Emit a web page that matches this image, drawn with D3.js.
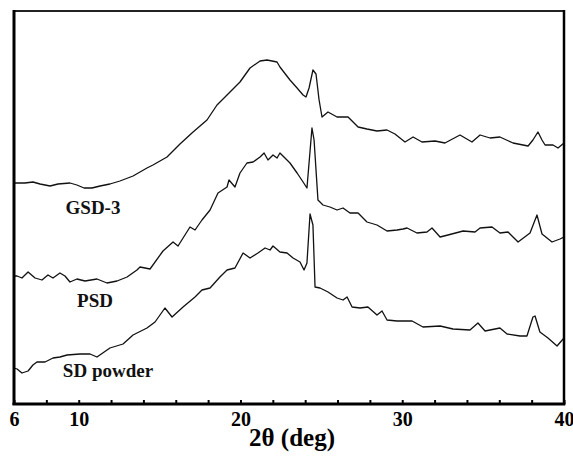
<!DOCTYPE html>
<html>
<head>
<meta charset="utf-8">
<script src="https://cdn.jsdelivr.net/npm/d3@7"></script>
<style>
  html, body { margin: 0; padding: 0; background: #fff; }
  svg { display: block; }
</style>
</head>
<body>
<svg id="chart" width="573" height="459"></svg>
<script>
// ---- Data (2θ in degrees, intensity in arbitrary units incl. vertical offsets) ----
const gsdTheta = [6.00,6.68,7.17,7.61,8.23,8.72,9.46,9.89,10.33,10.82,11.32,11.93,12.55,13.36,14.22,14.59,15.46,16.26,17.07,17.50,17.93,18.55,19.17,19.97,20.59,21.21,21.64,22.26,22.44,23.06,23.50,23.87,24.05,24.24,24.48,24.67,24.86,25.04,25.41,25.97,26.65,27.27,27.82,28.44,29.06,29.55,30.17,30.67,31.22,32.03,32.64,33.57,34.31,34.81,35.43,36.04,36.85,37.47,37.78,38.08,38.39,38.64,38.83,39.32,39.63,40.00];
const gsdValues = [221,221,222,220,218,220,221,219,216,216,218,220,223,228,236,239,247,260,272,278,284,299,309,322,336,343,344,342,337,324,316,309,307,316,334,330,304,287,292,287,287,277,275,273,274,270,262,267,262,263,261,269,262,269,266,267,261,259,258,264,272,264,259,259,256,261];

const psdTheta = [6.00,6.19,6.49,6.87,7.30,7.73,8.10,8.41,8.84,9.15,9.46,9.89,10.39,11.13,11.75,12.37,12.99,13.60,13.79,14.41,15.21,15.83,16.14,16.88,17.19,17.62,18.12,18.61,19.17,19.29,19.66,19.97,20.40,20.78,21.21,21.46,21.70,22.01,22.26,22.44,22.75,23.06,23.50,23.87,24.11,24.42,24.55,24.79,25.10,25.53,25.97,26.34,26.77,27.27,27.82,28.44,29.06,29.68,30.05,30.30,30.91,31.53,31.84,32.34,32.83,33.76,34.50,34.81,35.55,36.04,36.54,37.16,37.90,38.33,38.64,39.26,39.75,40.00];
const psdValues = [128,128,126,132,126,124,129,126,131,128,122,125,123,125,121,123,127,134,137,135,153,162,158,177,174,184,194,211,217,224,217,231,241,242,247,251,244,249,246,251,246,241,231,222,216,276,264,204,199,197,194,196,191,191,182,179,173,174,175,176,171,172,176,167,169,173,172,176,177,171,172,162,171,189,170,162,165,167];

const sdTheta = [6.00,6.19,6.49,6.87,7.17,7.42,7.92,8.41,8.84,9.28,10.08,10.70,11.13,11.93,12.74,13.36,14.22,14.72,15.33,15.77,16.45,17.19,17.62,18.12,18.73,19.17,19.66,20.16,20.59,21.08,21.52,21.83,22.01,22.44,22.88,23.25,23.68,23.93,24.11,24.30,24.48,24.61,24.92,25.41,25.97,26.34,26.59,26.90,27.39,27.88,28.44,28.75,29.06,29.68,30.30,30.61,31.28,32.34,33.14,34.19,34.68,35.12,36.04,36.48,37.28,37.71,38.08,38.21,38.51,39.01,39.57,40.00];
const sdValues = [36,35,31,33,39,42,42,46,47,49,50,50,47,56,60,69,76,82,96,87,97,107,114,116,127,134,136,151,146,151,156,154,158,152,151,146,142,134,141,190,179,117,116,112,106,104,107,97,96,97,89,93,84,83,83,83,77,78,75,74,81,73,76,70,68,68,87,88,72,66,58,66];

const seriesNames = ["GSD-3", "PSD", "SD powder"];
const majorTicks = [6, 10, 20, 30, 40];
const minorTicks = d3.range(6, 41, 2);
const xTitle = "2θ (deg)";

// ---- Layout ----
const svg = d3.select("#chart");
const padL = 14, padR = 564, padT = 11, padB = 404;

const x = d3.scaleLinear().domain([6, 40]).range([padL, padR]);
const y = d3.scaleLinear().domain([0, 393]).range([padB, padT]);

const line = d3.line().x(d => x(d[0])).y(d => y(d[1]));

const series = [
  { name: seriesNames[0], theta: gsdTheta, vals: gsdValues, lx: 93, ly: 214 },
  { name: seriesNames[1], theta: psdTheta, vals: psdValues, lx: 95, ly: 307 },
  { name: seriesNames[2], theta: sdTheta, vals: sdValues, lx: 108, ly: 377 }
];

// curves
series.forEach(s => {
  const pts = s.theta.map((t, i) => [t, s.vals[i]]);
  svg.append("path")
    .datum(pts)
    .attr("d", line)
    .attr("fill", "none")
    .attr("stroke", "#111")
    .attr("stroke-width", 1.3)
    .attr("stroke-linejoin", "round");
  svg.append("text")
    .attr("x", s.lx).attr("y", s.ly)
    .attr("text-anchor", "middle")
    .attr("font-family", "'Liberation Serif', 'Times New Roman', serif")
    .attr("font-weight", "bold")
    .attr("font-size", 19)
    .attr("fill", "#111")
    .text(s.name);
});

// frame
svg.append("line").attr("x1", padL).attr("x2", padR).attr("y1", padT).attr("y2", padT)
  .attr("stroke", "#222").attr("stroke-width", 2);
svg.append("line").attr("x1", padL).attr("x2", padL).attr("y1", padT - 1).attr("y2", padB + 1)
  .attr("stroke", "#000").attr("stroke-width", 3);
svg.append("line").attr("x1", padR).attr("x2", padR).attr("y1", padT - 1).attr("y2", padB + 1)
  .attr("stroke", "#000").attr("stroke-width", 2.5);

// minor / major ticks (inward)
const tickAxis = d3.axisBottom(x).tickValues(minorTicks).tickSize(-4).tickFormat("");
const gTicks = svg.append("g").attr("transform", `translate(0,${padB})`).call(tickAxis);
gTicks.select(".domain").remove();
gTicks.selectAll(".tick line").attr("stroke", "#000").attr("stroke-width", 2);

// bottom axis line
svg.append("line").attr("x1", padL - 1.5).attr("x2", padR + 1.25).attr("y1", padB).attr("y2", padB)
  .attr("stroke", "#000").attr("stroke-width", 3);

// labels
const labelAxis = d3.axisBottom(x).tickValues(majorTicks).tickSize(0).tickPadding(7).tickFormat(d3.format("d"));
const gLab = svg.append("g").attr("transform", `translate(0,${padB})`).call(labelAxis);
gLab.select(".domain").remove();
gLab.selectAll("text")
  .attr("font-family", "'Liberation Serif', 'Times New Roman', serif")
  .attr("font-weight", "bold")
  .attr("font-size", 20)
  .attr("fill", "#000")
  .attr("dy", null)
  .attr("y", 22);

svg.append("text")
  .attr("x", 292).attr("y", 446)
  .attr("text-anchor", "middle")
  .attr("font-family", "'Liberation Serif', 'Times New Roman', serif")
  .attr("font-weight", "bold")
  .attr("font-size", 25)
  .attr("fill", "#000")
  .text(xTitle);
</script>
</body>
</html>
